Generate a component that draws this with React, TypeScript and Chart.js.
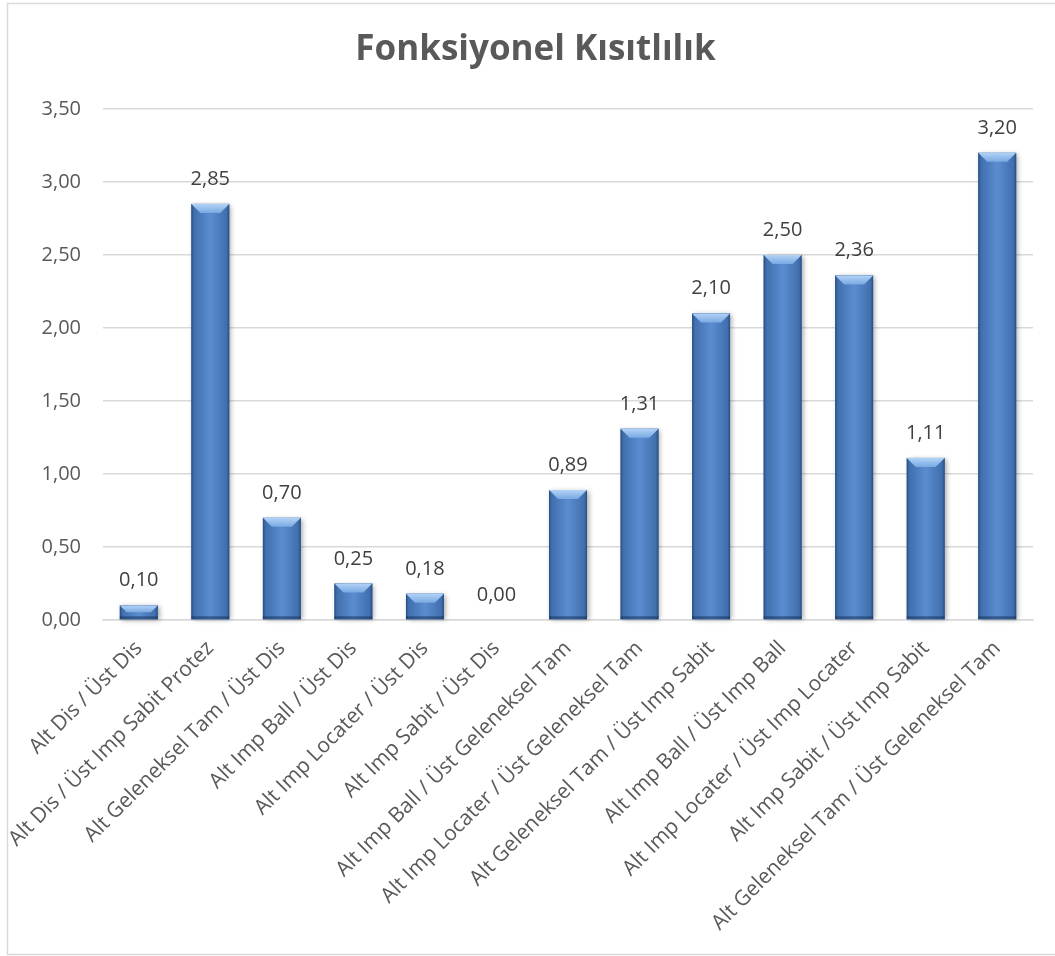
import React, { useEffect, useRef } from "react";
import { Chart, registerables } from "chart.js";

Chart.register(...registerables);

const TITLE = "Fonksiyonel Kısıtlılık";

const categories: string[] = [
  "Alt Dis / Üst Dis",
  "Alt Dis / Üst Imp Sabit Protez",
  "Alt Geleneksel Tam / Üst Dis",
  "Alt Imp Ball / Üst Dis",
  "Alt Imp Locater / Üst Dis",
  "Alt Imp Sabit / Üst Dis",
  "Alt Imp Ball / Üst Geleneksel Tam",
  "Alt Imp Locater / Üst Geleneksel Tam",
  "Alt Geleneksel Tam / Üst Imp Sabit",
  "Alt Imp Ball / Üst Imp Ball",
  "Alt Imp Locater / Üst Imp Locater",
  "Alt Imp Sabit / Üst Imp Sabit",
  "Alt Geleneksel Tam / Üst Geleneksel Tam",
];

const values: number[] = [0.1, 2.85, 0.7, 0.25, 0.18, 0.0, 0.89, 1.31, 2.1, 2.5, 2.36, 1.11, 3.2];

const yMin = 0;
const yMax = 3.5;
const yStep = 0.5;

const fmt = (v: number) => v.toFixed(2).replace(".", ",");

const FONT = "'Open Sans', 'DejaVu Sans', sans-serif";

const framePlugin = {
  id: "frame",
  beforeDraw(chart: any) {
    const ctx = chart.ctx;
    ctx.save();
    ctx.fillStyle = "#ffffff";
    ctx.fillRect(0, 0, chart.width, chart.height);
    ctx.strokeStyle = "#d9d9d9";
    ctx.lineWidth = 1.5;
    ctx.strokeRect(7.5, 3.5, chart.width + 10, chart.height - 5);
    ctx.restore();
  },
};

const bevelBarsPlugin = {
  id: "bevelBars",
  afterDatasetsDraw(chart: any) {
    const ctx = chart.ctx;
    const meta = chart.getDatasetMeta(0);
    const data = chart.data.datasets[0].data as number[];
    meta.data.forEach((el: any, i: number) => {
      const { x, y, base, width } = el.getProps(["x", "y", "base", "width"], true);
      const left = x - width / 2;
      const right = x + width / 2;
      const top = Math.min(y, base);
      const bottom = Math.max(y, base);
      const h = bottom - top;
      if (h > 0.5) {
        ctx.save();
        ctx.shadowColor = "rgba(0,0,0,0.35)";
        ctx.shadowBlur = 5;
        ctx.shadowOffsetX = 2;
        ctx.shadowOffsetY = 1;
        ctx.fillStyle = "#4677b8";
        ctx.fillRect(left, top, width, h);
        ctx.restore();

        ctx.save();
        const g = ctx.createLinearGradient(left, 0, right, 0);
        g.addColorStop(0, "#264d80");
        g.addColorStop(0.07, "#416fae");
        g.addColorStop(0.5, "#5a8dd0");
        g.addColorStop(0.93, "#416fae");
        g.addColorStop(1, "#264d80");
        ctx.fillStyle = g;
        ctx.fillRect(left, top, width, h);

        const b = Math.min(9, h / 2, width / 4);
        const tg = ctx.createLinearGradient(0, top, 0, top + b);
        tg.addColorStop(0, "#b3d3f7");
        tg.addColorStop(1, "#79a9e2");
        ctx.fillStyle = tg;
        ctx.beginPath();
        ctx.moveTo(left, top);
        ctx.lineTo(right, top);
        ctx.lineTo(right - b, top + b);
        ctx.lineTo(left + b, top + b);
        ctx.closePath();
        ctx.fill();
        const bb = Math.min(3, h / 3);
        ctx.fillStyle = "rgba(20,45,85,0.5)";
        ctx.fillRect(left, bottom - bb, width, bb);
        ctx.restore();
      }
      ctx.save();
      ctx.font = `20px ${FONT}`;
      ctx.fillStyle = "#404040";
      ctx.textAlign = "center";
      ctx.textBaseline = "alphabetic";
      ctx.fillText(fmt(data[i]), x, top - 19);
      ctx.restore();
    });
  },
};

export default function App() {
  const ref = useRef<HTMLCanvasElement | null>(null);

  useEffect(() => {
    if (!ref.current) return;
    const chart = new Chart(ref.current, {
      type: "bar",
      data: {
        labels: categories,
        datasets: [
          {
            label: TITLE,
            data: values,
            backgroundColor: "rgba(0,0,0,0)",
            borderWidth: 0,
            barPercentage: 0.53,
            categoryPercentage: 1,
          },
        ],
      },
      plugins: [framePlugin, bevelBarsPlugin],
      options: {
        responsive: false,
        animation: false,
        layout: { padding: { left: 38, right: 22, top: 0, bottom: 0 } },
        plugins: {
          legend: { display: false },
          tooltip: { enabled: false },
          title: {
            display: true,
            text: TITLE,
            color: "#595959",
            font: { family: FONT, size: 35, weight: "bold" },
            padding: { top: 29, bottom: 38 },
          },
        },
        scales: {
          x: {
            grid: { display: false, drawTicks: false },
            border: { display: true, color: "#d9d9d9", width: 1.5 },
            ticks: {
              color: "#595959",
              font: { family: FONT, size: 21 },
              maxRotation: 45,
              minRotation: 45,
              autoSkip: false,
              padding: 16,
            },
            afterFit(scale: any) {
              scale.height = 336;
            },
          },
          y: {
            min: yMin,
            max: yMax,
            grid: { color: "#d9d9d9", lineWidth: 1.5, drawTicks: false },
            border: { display: false },
            ticks: {
              stepSize: yStep,
              color: "#595959",
              font: { family: FONT, size: 20 },
              padding: 22,
              callback: (v: any) => fmt(Number(v)),
            },
            afterFit(scale: any) {
              scale.width = 65;
            },
          },
        },
      },
    });
    return () => chart.destroy();
  }, []);

  return (
    <div style={{ position: "absolute", left: 0, top: 0, width: 1055, height: 956 }}>
      <canvas ref={ref} width={1055} height={956} style={{ display: "block" }} />
    </div>
  );
}
